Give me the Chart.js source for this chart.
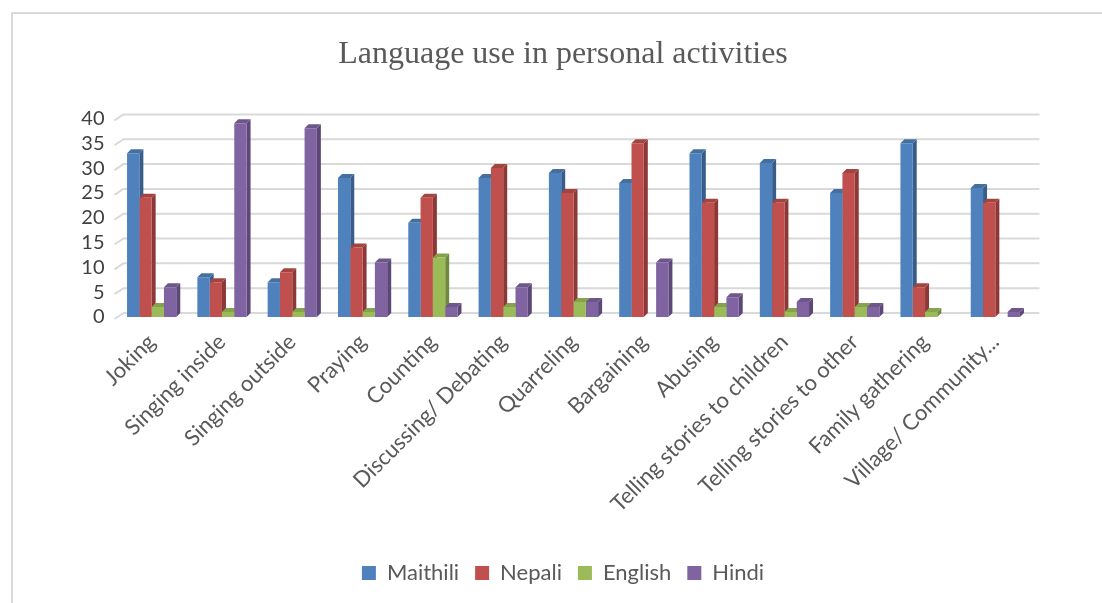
<!DOCTYPE html>
<html lang="en">
<head>
    <meta charset="UTF-8">
    <title>Language use in personal activities</title>
    <style>
        body { margin: 0; background: #fff; overflow: hidden; }
        #box {
            position: absolute; left: 11px; top: 12px;
            width: 1102px; height: 603px;
            border-left: 2px solid #d9d9d9; border-top: 2px solid #d9d9d9;
        }
        canvas { display: block; }
    </style>
    <script src="https://cdn.jsdelivr.net/npm/chart.js@4.4.2/dist/chart.umd.min.js"></script>
</head>
<body>
    <div id="box"><canvas id="langChart" width="1100" height="600"></canvas></div>

    <script>
        // data
        const activities = [
            'Joking', 'Singing inside', 'Singing outside', 'Praying', 'Counting',
            'Discussing/ Debating', 'Quarreling', 'Bargaining', 'Abusing',
            'Telling stories to children', 'Telling stories to other',
            'Family gathering', 'Village/ Community...'
        ];
        const maithili = [33, 8, 7, 28, 19, 28, 29, 27, 33, 31, 25, 35, 26];
        const nepali   = [24, 7, 9, 14, 24, 30, 25, 35, 23, 23, 29, 6, 23];
        const english  = [2, 1, 1, 1, 12, 2, 3, 0, 2, 1, 2, 1, 0];
        const hindi    = [6, 39, 38, 11, 2, 6, 3, 11, 4, 3, 2, 0, 1];
        const yTicks   = [0, 5, 10, 15, 20, 25, 30, 35, 40];

        const colors = ['#4F81BD', '#C0504D', '#9BBB59', '#8064A2'];
        const sides  = ['#385D8A', '#8C3836', '#71893F', '#5C4776'];
        const tops   = ['#44709F', '#A4443F', '#86A24C', '#6E568B'];

        // fake 3D: back-wall grid + side/top faces, drawn before the bar fronts
        const depth = 4;
        const gridDX = 9, gridDY = 6;
        const fake3d = {
            id: 'fake3d',
            beforeDatasetsDraw(chart) {
                const ctx = chart.ctx;
                const area = chart.chartArea;
                const y = chart.scales.y;
                ctx.save();
                ctx.strokeStyle = '#d9d9d9';
                ctx.lineWidth = 2;
                yTicks.forEach(v => {
                    const py = y.getPixelForValue(v);
                    ctx.beginPath();
                    ctx.moveTo(area.left - 2, py + 2);
                    ctx.lineTo(area.left + gridDX - 2, py - gridDY + 2);
                    ctx.lineTo(area.right + gridDX, py - gridDY + 2);
                    ctx.stroke();
                });
                chart.data.datasets.forEach((ds, i) => {
                    const meta = chart.getDatasetMeta(i);
                    meta.data.forEach((bar, j) => {
                        if (!ds.data[j]) return;
                        const p = bar.getProps(['x', 'y', 'base', 'width'], true);
                        const l = p.x - p.width / 2, r = p.x + p.width / 2;
                        ctx.fillStyle = sides[i];
                        ctx.beginPath();
                        ctx.moveTo(r, p.y);
                        ctx.lineTo(r + depth, p.y - depth);
                        ctx.lineTo(r + depth, p.base - depth);
                        ctx.lineTo(r, p.base);
                        ctx.closePath();
                        ctx.fill();
                        ctx.fillStyle = tops[i];
                        ctx.beginPath();
                        ctx.moveTo(l, p.y);
                        ctx.lineTo(l + depth, p.y - depth);
                        ctx.lineTo(r + depth, p.y - depth);
                        ctx.lineTo(r, p.y);
                        ctx.closePath();
                        ctx.fill();
                    });
                });
                ctx.restore();
            }
        };

        const ctx = document.getElementById('langChart').getContext('2d');
        new Chart(ctx, {
            type: 'bar',
            data: {
                labels: activities,
                datasets: [
                    { label: 'Maithili', data: maithili, backgroundColor: colors[0] },
                    { label: 'Nepali', data: nepali, backgroundColor: colors[1] },
                    { label: 'English', data: english, backgroundColor: colors[2] },
                    { label: 'Hindi', data: hindi, backgroundColor: colors[3] }
                ]
            },
            options: {
                responsive: false,
                animation: false,
                devicePixelRatio: 1,
                layout: { padding: { top: 0, right: 0, bottom: 20, left: 0 } },
                datasets: { bar: { categoryPercentage: 0.7, barPercentage: 1.0 } },
                plugins: {
                    title: {
                        display: true,
                        text: 'Language use in personal activities',
                        color: '#595959',
                        font: { family: '"Liberation Serif", "Times New Roman", serif', size: 32, weight: 'normal' },
                        padding: { top: 21, bottom: 45 }
                    },
                    legend: {
                        position: 'bottom',
                        labels: {
                            color: '#595959',
                            font: { family: 'Lato, "Open Sans", sans-serif', size: 22 },
                            boxWidth: 14, boxHeight: 14, padding: 16
                        }
                    },
                    tooltip: { enabled: false }
                },
                scales: {
                    x: {
                        grid: { display: false },
                        border: { display: false },
                        ticks: {
                            color: '#595959',
                            font: { family: 'Lato, "Open Sans", sans-serif', size: 22 },
                            autoSkip: false, minRotation: 45, maxRotation: 45, padding: 4
                        },
                        afterFit(scale) { scale.height = 229; }
                    },
                    y: {
                        min: 0, max: 40,
                        grid: { display: false },
                        border: { display: false },
                        ticks: {
                            stepSize: 5,
                            autoSkip: false,
                            color: '#404040',
                            font: { family: 'Lato, "Open Sans", sans-serif', size: 20 },
                            padding: 4
                        },
                        afterFit(scale) { scale.width = 103.5; }
                    },
                    // empty right-hand space so the title and legend stay centred on the frame
                    spacer: {
                        position: 'right',
                        grid: { display: false },
                        border: { display: false },
                        ticks: { display: false },
                        afterFit(scale) { scale.width = 82.5; }
                    }
                }
            },
            plugins: [fake3d]
        });
    </script>
</body>
</html>
